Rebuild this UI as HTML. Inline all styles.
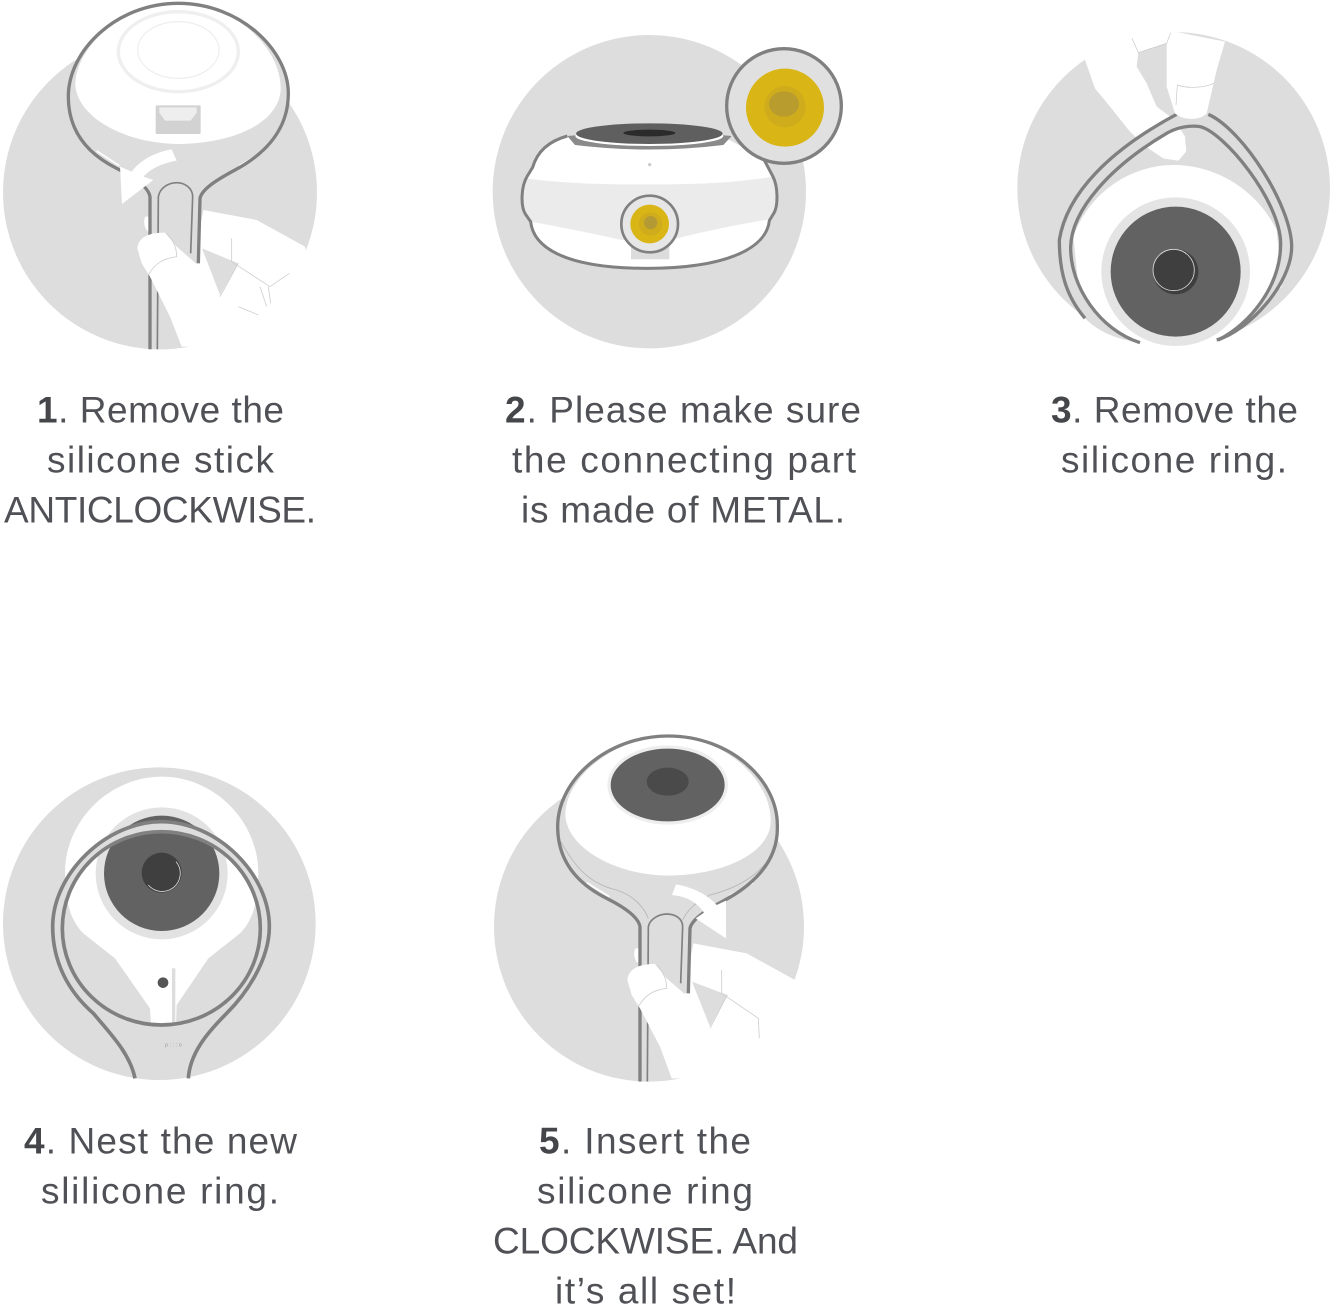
<!DOCTYPE html>
<html><head><meta charset="utf-8"><style>
html,body{margin:0;padding:0;background:#fff;width:1333px;height:1308px;overflow:hidden}
svg{display:block}
text{font-family:"Liberation Sans",sans-serif;font-size:37px;fill:#505156}
text tspan.b{font-weight:bold;fill:#45464a}
</style></head><body>
<svg width="1333" height="1308" viewBox="0 0 1333 1308" xmlns="http://www.w3.org/2000/svg">
<rect width="1333" height="1308" fill="#fff"/>

<!-- PANEL 1 -->
<g transform="translate(0,0) scale(.33333)">
<circle cx="480" cy="577" r="471" fill="#ddd"/>
<clipPath id="c1"><rect x="0" y="0" width="1000" height="1048"/></clipPath>
<g clip-path="url(#c1)">
<path d="M610,630 L770,660 L915,740 L930,800 L860,860 L755,975 L610,1040 L560,900 Z" fill="#fff"/>
<path d="M606,745 L715,790 L660,885 Z" fill="#ddd"/>
<path d="M450,1048 L450,590 C445,560 400,530 350,505 C270,465 205,400 205,290 C205,150 350,10 535,10 C720,10 865,150 865,280 C865,400 780,470 705,510 C640,545 605,570 600,595 L595,790 L450,790 Z" fill="#ddd"/>
<path d="M436,650 C428,665 435,690 445,695 L450,650 Z" fill="#fff"/>
<path d="M472,1048 L475,590 C480,560 510,548 530,548 C555,548 578,565 578,590 L572,760" fill="none" stroke="#808080" stroke-width="5"/>
<path d="M226,255 C226,140 370,10 535,10 C700,10 845,140 842,270 C835,370 700,430 535,432 C370,430 232,350 226,255 Z" fill="#fff"/>
<path d="M290,453 L358,497 M718,497 L790,455" stroke="#fff" stroke-width="5" fill="none"/>
<path d="M450,1048 L450,590 C445,560 400,530 350,505 C270,465 205,400 205,290 C205,150 350,10 535,10 C720,10 865,150 865,280 C865,400 780,470 705,510 C640,545 605,570 600,595 L595,790" fill="none" stroke="#808080" stroke-width="10"/>
<ellipse cx="535" cy="155" rx="180" ry="120" fill="none" stroke="#efefef" stroke-width="10"/>
<ellipse cx="535" cy="150" rx="122" ry="85" fill="none" stroke="#efefef" stroke-width="4"/>
<rect x="467" y="316" width="135" height="86" rx="4" fill="#d2d2d2"/>
<path d="M478,322 H590 V338 L572,362 H495 L478,338 Z" fill="#eee"/>
<path d="M515,448 C470,455 420,480 395,515 L360,500 L366,612 L460,540 L430,530 C460,500 490,490 530,482 Z" fill="#fff"/>
<path d="M412,745 C415,715 440,698 495,698 L530,740 L610,810 L660,890 L720,960 L755,975 L610,1040 L545,1040 L510,950 L450,830 L425,790 Z" fill="#fff"/>
<path d="M500,700 C520,720 530,745 530,770 C490,775 465,790 445,825 M660,890 L715,790 M695,715 L695,785 L810,860 L868,820 M780,860 L800,920 M805,860 L812,910 M715,920 L775,945" fill="none" stroke="#cfcfcf" stroke-width="2.5"/>
</g></g>

<!-- PANEL 2 -->
<g transform="translate(490,30) scale(.33333)">
<circle cx="478" cy="485" r="470" fill="#ddd"/>
<path d="M232,318 C170,335 140,370 128,412 L112,438 C92,470 92,530 106,552 L122,575 C130,650 220,715 470,715 C720,715 830,650 838,572 L850,552 C865,530 865,470 848,438 L820,385 L700,320 Z" fill="#fff"/>
<path d="M108,445 Q250,465 480,463 Q700,465 850,440 C862,470 862,530 838,568 Q700,590 560,625 L395,630 Q260,600 122,575 C92,535 92,480 108,445 Z" fill="#ebebeb"/>
<path d="M232,318 C170,335 140,370 128,412 L112,438 C92,470 92,530 106,552 L122,575 C130,650 220,715 470,715 C720,715 830,650 838,572 L850,552 C865,530 865,470 848,438 L820,385" fill="none" stroke="#808080" stroke-width="9"/>
<path d="M232,318 Q478,295 725,318 L700,345 Q478,372 255,345 Z" fill="#8a8a8a"/>
<ellipse cx="478" cy="318" rx="222" ry="30" fill="#fff"/>
<ellipse cx="478" cy="311" rx="220" ry="31" fill="#5f5f5f"/>
<ellipse cx="478" cy="309" rx="78" ry="10" fill="#2b2b2b"/>
<circle cx="479" cy="404" r="5" fill="#ccc"/>
<rect x="423" y="645" width="115" height="43" fill="#dcdcdc"/>
<circle cx="479" cy="582" r="85" fill="#e6e6e6" stroke="#808080" stroke-width="8"/>
<circle cx="479" cy="582" r="58" fill="#d9b516"/>
<circle cx="482" cy="582" r="35" fill="#cfac1c"/>
<circle cx="482" cy="578" r="20" fill="#b39a35"/>
<circle cx="882" cy="228" r="172" fill="#e0e0e0" stroke="#808080" stroke-width="10"/>
<circle cx="885" cy="233" r="117" fill="#d9b516"/>
<circle cx="885" cy="230" r="62" fill="#cfac1c"/>
<ellipse cx="882" cy="222" rx="45" ry="38" fill="#b89c2e"/>
</g>

<!-- PANEL 3 -->
<g transform="translate(1010,20) scale(.33333)">
<circle cx="491" cy="505" r="469" fill="#ddd"/>
<path d="M225,120 L255,205 L300,260 L360,335 L405,378 L460,415 L505,422 L528,395 L525,350 L495,300 L440,260 L410,190 L380,140 L385,98 L470,70 L482,20 L180,20 Z" fill="#fff"/>
<path d="M190,650 C240,510 370,435 490,435 C620,435 740,510 800,630 L815,800 L640,965 L400,975 L215,890 Z" fill="#fff"/>
<path d="M225,895 C170,830 148,760 148,660 C170,520 300,390 500,283 L595,283 C700,330 845,560 845,680 C845,790 720,930 620,960 C720,910 812,800 812,670 C810,540 640,320 570,320 C540,315 500,322 470,340 C300,440 185,570 182,680 C180,800 270,930 390,968 C330,960 270,940 225,895 Z" fill="#ddd"/>
<path d="M495,330 C515,340 530,365 528,395 L505,422 L460,415 L405,378 Z" fill="#fff"/>
<path d="M225,895 C170,830 148,760 148,660 C170,520 300,390 500,283" fill="none" stroke="#808080" stroke-width="10"/>
<path d="M595,283 C700,330 845,560 845,680 C845,790 720,930 620,960" fill="none" stroke="#808080" stroke-width="10"/>
<path d="M390,968 C270,930 180,800 182,680 C185,570 300,440 470,340 C500,322 540,315 570,320 C640,335 810,540 812,670 C812,800 720,910 625,960" fill="none" stroke="#808080" stroke-width="10"/>
<path d="M470,30 L645,65 L620,150 L590,280 C570,302 520,302 495,280 L470,200 L470,70 Z" fill="#fff"/>
<path d="M498,255 L502,195 C530,205 580,205 612,190 M366,55 L385,98 L470,70 L482,38" fill="none" stroke="#c8c8c8" stroke-width="2"/>
<circle cx="497" cy="755" r="223" fill="#e4e4e4"/>
<circle cx="497" cy="755" r="195" fill="#626262"/>
<circle cx="497" cy="755" r="68" fill="#3f3f3f"/>
<circle cx="491" cy="750" r="62" fill="none" stroke="#ddd" stroke-width="2.5"/>
</g>

<!-- PANEL 4 -->
<g transform="translate(0,760) scale(.33333)">
<circle cx="478" cy="491" r="469" fill="#ddd"/>
<path d="M195,340 C195,180 330,50 485,50 C640,50 775,180 775,340 C775,420 760,480 720,520 L625,595 L530,735 L528,795 L453,795 L450,745 L345,595 L250,520 C210,480 195,420 195,340 Z" fill="#fff"/>
<rect x="516" y="625" width="10" height="165" fill="#ddd"/>
<circle cx="489" cy="668" r="16" fill="#555"/>
<circle cx="485" cy="340" r="198" fill="#e2e2e2"/>
<circle cx="485" cy="340" r="173" fill="#626262"/>
<circle cx="485" cy="338" r="60" fill="#3f3f3f"/>
<path d="M528,305 A48,48 0 0 1 445,375" fill="none" stroke="#ddd" stroke-width="2.5"/>
<path fill-rule="evenodd" d="M158,500 C158,340 320,185 483,185 C650,185 808,340 808,500 C808,670 650,800 483,800 C320,800 158,670 158,500 Z M187,505 C187,345 330,215 484,215 C640,215 781,345 781,505 C781,665 640,795 484,795 C330,795 187,665 187,505 Z" fill="#ddd"/>
<path d="M405,955 C390,880 330,820 280,760 C200,690 158,600 158,500 C158,340 320,185 483,185 C650,185 808,340 808,500 C808,600 740,700 680,760 C620,820 570,880 565,955" fill="none" stroke="#808080" stroke-width="11"/>
<ellipse cx="484" cy="505" rx="297" ry="290" fill="none" stroke="#808080" stroke-width="11"/>
<text x="495" y="860" style="font-size:16px;fill:#999" textLength="50">p:::o</text>
</g>

<!-- PANEL 5 -->
<g transform="translate(490,730) scale(.33333)">
<circle cx="477" cy="590" r="465" fill="#ddd"/>
<clipPath id="c5"><rect x="0" y="0" width="1000" height="1055"/></clipPath>
<g clip-path="url(#c5)">
<path d="M610,640 L770,670 L915,750 L930,810 L860,870 L755,980 L610,1045 L560,900 Z" fill="#fff"/>
<path d="M606,755 L712,795 L660,890 Z" fill="#ddd"/>
<path d="M450,1055 L450,590 C445,560 400,530 350,505 C270,465 203,400 203,290 C203,150 350,18 535,18 C720,18 865,150 862,290 C865,400 780,470 705,510 C640,545 605,570 600,595 L595,790 L450,790 Z" fill="#ddd"/>
<path d="M436,655 C428,670 435,695 445,700 L450,655 Z" fill="#fff"/>
<path d="M472,1055 L475,590 C480,565 510,552 530,552 C555,552 578,565 578,590 L572,760" fill="none" stroke="#808080" stroke-width="5"/>
<path d="M212,335 C250,400 290,460 380,480 C440,500 465,540 475,565 M835,390 C790,450 720,480 660,495 C610,520 590,545 578,570" fill="none" stroke="#b5b5b5" stroke-width="2.5"/>
<path d="M290,458 L358,500 M718,497 L790,458" stroke="#fff" stroke-width="5" fill="none"/>
<path d="M226,255 C226,140 380,18 535,18 C700,18 845,150 842,275 C840,370 700,435 535,437 C370,435 230,350 226,255 Z" fill="#fff"/>
<path d="M450,1055 L450,590 C445,560 400,530 350,505 C270,465 203,400 203,290 C203,150 350,18 535,18 C720,18 865,150 862,290 C865,400 780,470 705,510 C640,545 605,570 600,595 L595,790" fill="none" stroke="#808080" stroke-width="10"/>
<ellipse cx="533" cy="165" rx="176" ry="114" fill="#626262" stroke="#eee" stroke-width="10"/>
<ellipse cx="533" cy="155" rx="63" ry="42" fill="#4a4a4a"/>
<path d="M558,463 C600,470 650,490 680,525 L708,512 L708,625 L617,565 L642,548 C620,515 590,500 546,495 Z" fill="#fff"/>
<path d="M412,750 C415,720 440,702 495,702 L530,745 L610,815 L660,895 L720,965 L755,980 L610,1045 L545,1045 L510,950 L450,835 L425,795 Z" fill="#fff"/>
<path d="M500,705 C520,725 530,750 530,775 C490,780 465,795 445,830 M660,895 L712,795 M695,720 L695,790 L805,865 L808,925" fill="none" stroke="#cfcfcf" stroke-width="2.5"/>
</g></g>

<!-- LABELS -->
<text x="37" y="422.5" textLength="247"><tspan class="b">1</tspan>. Remove the</text>
<text x="47" y="472.5" textLength="227">silicone stick</text>
<text x="4" y="522.5" textLength="312">ANTICLOCKWISE.</text>

<text x="505" y="422.5" textLength="356"><tspan class="b">2</tspan>. Please make sure</text>
<text x="512" y="472.5" textLength="344">the connecting part</text>
<text x="521" y="522.5" textLength="324">is made of METAL.</text>

<text x="1051" y="422.5" textLength="247"><tspan class="b">3</tspan>. Remove the</text>
<text x="1061" y="472.5" textLength="226">silicone ring.</text>

<text x="24" y="1153.5" textLength="273"><tspan class="b">4</tspan>. Nest the new</text>
<text x="41" y="1203.5" textLength="238">slilicone ring.</text>

<text x="539" y="1153.5" textLength="212"><tspan class="b">5</tspan>. Insert the</text>
<text x="537" y="1203.5" textLength="216">silicone ring</text>
<text x="493" y="1253.5" textLength="305">CLOCKWISE. And</text>
<text x="555" y="1303.5" textLength="181">it’s all set!</text>
</svg>
</body></html>
